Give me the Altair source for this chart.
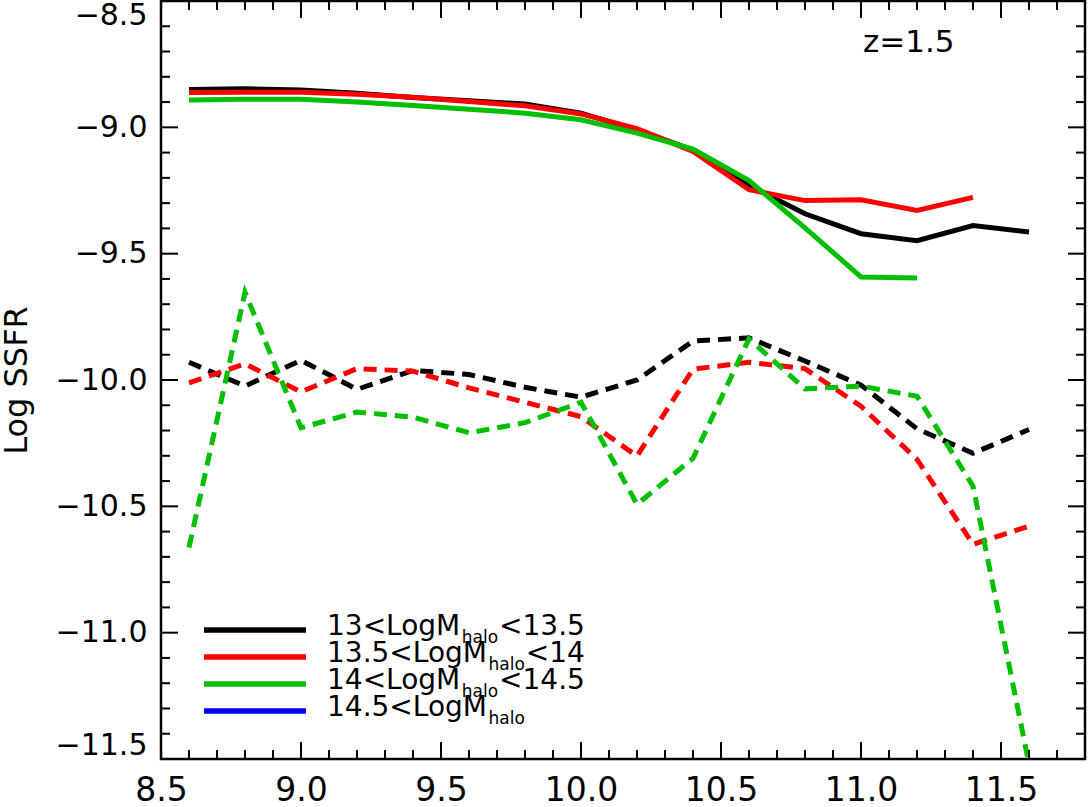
import altair as alt
import pandas as pd
import numpy as np

# ---------------- data ----------------
x_vals = [8.6, 8.8, 9.0, 9.2, 9.4, 9.6, 9.8, 10.0, 10.2, 10.4, 10.6, 10.8, 11.0, 11.2, 11.4, 11.6]

black_solid = [-8.850, -8.847, -8.852, -8.865, -8.882, -8.895, -8.908, -8.944,
               -9.010, -9.090, -9.230, -9.342, -9.421, -9.449, -9.389, -9.414]
red_solid = [-8.862, -8.861, -8.861, -8.869, -8.881, -8.898, -8.915, -8.947,
             -9.005, -9.095, -9.247, -9.290, -9.287, -9.329, -9.277]
green_solid = [-8.892, -8.889, -8.889, -8.900, -8.914, -8.928, -8.944, -8.970,
               -9.023, -9.086, -9.211, -9.398, -9.592, -9.596]

black_dashed = [-9.930, -10.024, -9.922, -10.037, -9.962, -9.978, -10.029, -10.068,
                -10.000, -9.846, -9.833, -9.925, -10.020, -10.193, -10.290, -10.196]
red_dashed = [-10.011, -9.936, -10.047, -9.955, -9.965, -10.031, -10.088, -10.145,
              -10.301, -9.957, -9.930, -9.955, -10.104, -10.314, -10.650, -10.578]
green_dashed = [-10.663, -9.653, -10.189, -10.127, -10.147, -10.209, -10.169, -10.088,
                -10.492, -10.310, -9.837, -10.035, -10.024, -10.064, -10.420, -11.520]

legend_prefix = ["13<LogM", "13.5<LogM", "14<LogM", "14.5<LogM"]
legend_sub = ["halo", "halo", "halo", "halo"]
legend_suffix = ["<13.5", "<14", "<14.5", ""]
legend_colors = ["#000000", "#ff0000", "#00bf00", "#0000ff"]

annotation = "z=1.5"
y_title = "Log SSFR"

x_major = [8.5, 9.0, 9.5, 10.0, 10.5, 11.0, 11.5]
y_major = [-11.5, -11.0, -10.5, -10.0, -9.5, -9.0, -8.5]
x_minor = [round(v, 1) for v in np.arange(8.6, 11.75, 0.1) if round(v * 2, 6) != round(round(v * 2), 6)]
y_minor = [round(v, 1) for v in np.arange(-11.4, -8.55, 0.1) if round(v * 2, 6) != round(round(v * 2), 6)]

# ---------------- layout ----------------
X_DOMAIN = [8.5, 11.8]
Y_DOMAIN = [-11.5, -8.5]
W, H = 924, 758
FONT = "DejaVu Sans"
PX_X = W / (X_DOMAIN[1] - X_DOMAIN[0])
PX_Y = H / (Y_DOMAIN[1] - Y_DOMAIN[0])


def px2x(px):
    return X_DOMAIN[0] + px / PX_X


def px2y(py):
    return Y_DOMAIN[1] - py / PX_Y


xs = alt.Scale(domain=X_DOMAIN, nice=False, zero=False)
ys = alt.Scale(domain=Y_DOMAIN, nice=False, zero=False)

x_axis = alt.Axis(values=x_major, format=".1f", labelFontSize=33, labelPadding=15,
                  labelFont=FONT, labelColor="black", ticks=False, domain=False,
                  grid=False, labelFlush=False, title=None)
y_axis = alt.Axis(values=y_major, format=".1f", labelFontSize=30, labelPadding=14,
                  labelFont=FONT, labelColor="black", ticks=False, domain=False,
                  grid=False, labelFlush=True, labelFlushOffset=1, title=y_title,
                  titleFont=FONT, titleFontSize=32, titleFontWeight="normal",
                  titleColor="black", titleAngle=270, titleAlign="center",
                  titleBaseline="alphabetic", titleX=-135, titleY=H / 2)

X = alt.X("x:Q", scale=xs, axis=x_axis)
Y = alt.Y("y:Q", scale=ys, axis=y_axis)


def line_layer(ys_list, color, dashed):
    df = pd.DataFrame({"x": x_vals[:len(ys_list)], "y": ys_list})
    kw = dict(color=color, strokeWidth=5, clip=True, strokeCap="butt")
    if dashed:
        kw["strokeDash"] = [13, 8]
    return alt.Chart(df).mark_line(**kw).encode(x=X, y=Y)


layers = [
    line_layer(black_solid, "#000000", False),
    line_layer(black_dashed, "#000000", True),
    line_layer(red_solid, "#ff0000", False),
    line_layer(red_dashed, "#ff0000", True),
    line_layer(green_solid, "#00bf00", False),
    line_layer(green_dashed, "#00bf00", True),
]

# ---------------- inward ticks on all four sides ----------------
MAJ, MIN = 17, 9
xmaj = pd.DataFrame({"x": x_major})
xmin = pd.DataFrame({"x": x_minor})
ymaj = pd.DataFrame({"y": y_major})
ymin = pd.DataFrame({"y": y_minor})
tick_style = dict(color="black", strokeWidth=2)
for df, L in [(xmaj, MAJ), (xmin, MIN)]:
    layers.append(alt.Chart(df).mark_rule(**tick_style).encode(
        x=X, y=alt.value(0), y2=alt.value(L)))
    layers.append(alt.Chart(df).mark_rule(**tick_style).encode(
        x=X, y=alt.value(H - L), y2=alt.value(H)))
for df, L in [(ymaj, MAJ), (ymin, MIN)]:
    layers.append(alt.Chart(df).mark_rule(**tick_style).encode(
        y=Y, x=alt.value(0), x2=alt.value(L)))
    layers.append(alt.Chart(df).mark_rule(**tick_style).encode(
        y=Y, x=alt.value(W - L), x2=alt.value(W)))

# ---------------- custom legend with subscripts ----------------
DV = {"1": 636, "3": 636, "4": 636, "5": 636, ".": 318, "<": 838, "L": 557,
      "o": 612, "g": 635, "M": 863, "h": 634, "a": 613, "l": 278}


def text_w(s, size):
    return sum(DV.get(c, 600) for c in s) / 1000.0 * size


FS_MAIN, FS_SUB = 28, 17
LINE_X0, LINE_X1 = 43, 145
TEXT_X = 166
ROW0, ROW_STEP = 629, 27
rows = []
for i, (p, s, u, c) in enumerate(zip(legend_prefix, legend_sub, legend_suffix, legend_colors)):
    ly = ROW0 + ROW_STEP * i
    sub_px = TEXT_X + text_w(p, FS_MAIN) + 1
    suf_px = sub_px + text_w(s, FS_SUB) + 1
    rows.append({
        "x": px2x(LINE_X0), "x2": px2x(LINE_X1), "y": px2y(ly), "c": c,
        "tx": px2x(TEXT_X), "ty": px2y(ly + 5), "p": p,
        "sx": px2x(sub_px), "sy": px2y(ly + 13), "s": s,
        "ux": px2x(suf_px), "u": u,
    })
leg = pd.DataFrame(rows)

layers.append(alt.Chart(leg).mark_rule(strokeWidth=5.5).encode(
    x=X, x2="x2:Q", y=Y, color=alt.Color("c:N", scale=None)))
layers.append(alt.Chart(leg).mark_text(align="left", baseline="alphabetic", font=FONT,
                                       fontSize=FS_MAIN, color="black").encode(
    x=alt.X("tx:Q", scale=xs, axis=x_axis), y=alt.Y("ty:Q", scale=ys, axis=y_axis), text="p:N"))
layers.append(alt.Chart(leg).mark_text(align="left", baseline="alphabetic", font=FONT,
                                       fontSize=FS_SUB, color="black").encode(
    x=alt.X("sx:Q", scale=xs, axis=x_axis), y=alt.Y("sy:Q", scale=ys, axis=y_axis), text="s:N"))
layers.append(alt.Chart(leg).mark_text(align="left", baseline="alphabetic", font=FONT,
                                       fontSize=FS_MAIN, color="black").encode(
    x=alt.X("ux:Q", scale=xs, axis=x_axis), y=alt.Y("ty:Q", scale=ys, axis=y_axis), text="u:N"))

# annotation
ann = pd.DataFrame({"x": [px2x(702)], "y": [px2y(51)], "t": [annotation]})
layers.append(alt.Chart(ann).mark_text(align="left", baseline="alphabetic", font=FONT,
                                       fontSize=31, color="black").encode(
    x=X, y=Y, text="t:N"))

chart = alt.layer(*layers).properties(
    width=W, height=H,
    autosize=alt.AutoSizeParams(type="none"),
    padding={"left": 161, "top": 1, "right": 3, "bottom": 48},
    background="white",
).configure_view(stroke="black", strokeWidth=2.5)

chart.save("out.html", embed_options={"renderer": "svg", "actions": False})
